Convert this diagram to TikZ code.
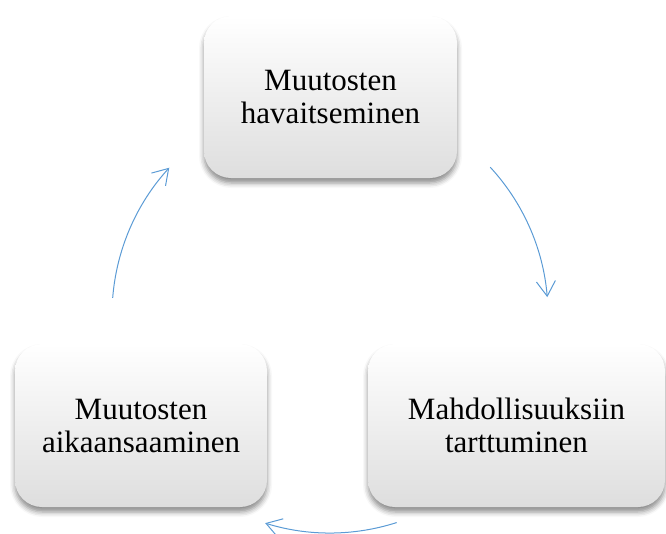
\documentclass[tikz,border=0pt]{standalone}
\usepackage{fontspec}
\setmainfont{Liberation Serif}
\usetikzlibrary{arrows.meta,shadows.blur}
\definecolor{arrowblue}{HTML}{5B9BD5}
\tikzset{
  stepbox/.style={rectangle, rounded corners=27pt, inner sep=0pt, align=center,
    top color=white, middle color=white, bottom color=black!13,
    blur shadow={shadow xshift=0pt, shadow yshift=-5pt, shadow blur radius=5pt, shadow opacity=45},
    font=\fontsize{31pt}{33pt}\selectfont},
  cyclearrow/.style={draw=arrowblue, line width=1pt, -{Straight Barb[length=15pt,width=19pt,line width=1pt]}}
}
\begin{document}
\begin{tikzpicture}[x=1pt,y=-1pt]
\useasboundingbox (0,0) rectangle (666,533);
\node[stepbox, minimum width=253pt, minimum height=162pt] (top) at (330.5,97) {Muutosten\\havaitseminen};
\node[stepbox, minimum width=252pt, minimum height=163pt] (left) at (141,425.5) {Muutosten\\aikaansaaminen};
\node[stepbox, minimum width=297pt, minimum height=163pt] (right) at (516.5,425.5) {Mahdollisuuksiin\\tarttuminen};
\coordinate (c) at (330,315);
\draw[cyclearrow] ([shift={(42.7:218pt)}]c) arc[start angle=42.7, end angle=4.7, radius=218pt];
\draw[cyclearrow] ([shift={(-72.2:218pt)}]c) arc[start angle=-72.2, end angle=-107.3, radius=218pt];
\draw[cyclearrow] ([shift={(175.5:218pt)}]c) arc[start angle=175.5, end angle=137.5, radius=218pt];
\end{tikzpicture}
\end{document}
